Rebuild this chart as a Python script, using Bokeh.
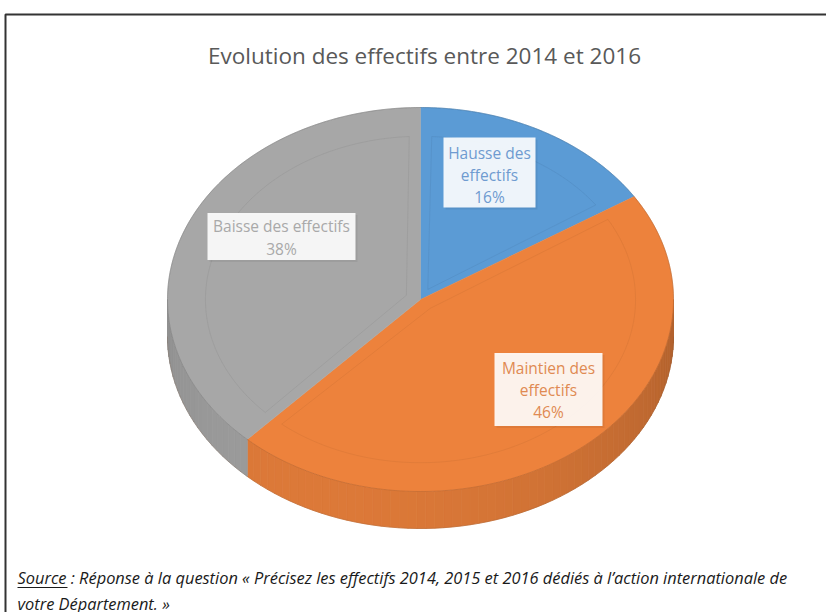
import numpy as np
from bokeh.plotting import figure
from bokeh.models import Range1d
from bokeh.core.properties import value
from bokeh.embed import file_html
from bokeh.resources import INLINE

# ---------------- data ----------------
chart_title = "Evolution des effectifs entre 2014 et 2016"
categories = ["Hausse des effectifs", "Maintien des effectifs", "Baisse des effectifs"]
shares = [16, 46, 38]
label_lines = [["Hausse des", "effectifs", "16%"],
               ["Maintien des", "effectifs", "46%"],
               ["Baisse des effectifs", "38%"]]
source_word = "Source"
source_line1 = "Source : Réponse à la question « Précisez les effectifs 2014, 2015 et 2016 dédiés à l’action internationale de"
source_line2 = "votre Département. »"

# ---------------- style / layout ----------------
top_colors = [(91, 155, 213), (237, 130, 60), (167, 167, 167)]
label_text_colors = ["#6f9bd0", "#e08a52", "#a9a9a9"]
label_boxes = [(489, 172, 92, 70), (548, 389, 108, 73), (281, 236, 148, 47)]   # cx, cy, w, h
label_line_y = [[152, 174, 196], [367, 389, 411], [225, 248]]

W, H = 826, 612
cx, cy, ra, rb, depth = 420, 299, 253, 192, 37

p = figure(width=W, height=H, x_range=Range1d(0, W), y_range=Range1d(H, 0),
           output_backend="svg", toolbar_location=None, min_border=0,
           x_axis_location=None, y_axis_location=None)
p.grid.visible = False
p.outline_line_color = None
p.background_fill_color = "white"
p.border_fill_color = "white"


def pt(theta, r=1.0, dy=0.0):
    t = np.radians(theta)
    return cx + ra * r * np.sin(t), cy - rb * r * np.cos(t) + dy


def hexc(rgb, f=1.0):
    r, g, b = [int(max(0, min(255, round(c * f)))) for c in rgb]
    return "#%02x%02x%02x" % (r, g, b)


total = float(sum(shares))
bounds = np.concatenate([[0], np.cumsum(shares)]) / total * 360.0

# ---- side wall (front half: 90..270 deg clockwise from top) ----
sx, sy, sc = [], [], []
for i in range(len(shares)):
    a0, a1 = max(bounds[i], 90.0), min(bounds[i + 1], 270.0)
    if a1 <= a0:
        continue
    steps = np.linspace(a0, a1, max(2, int((a1 - a0) / 2) + 1))
    for t0, t1 in zip(steps[:-1], steps[1:]):
        xa, ya = pt(t0)
        xb, yb = pt(t1)
        tm = 0.5 * (t0 + t1)
        f = 0.80 + 0.13 * np.cos(np.radians(tm - 205))
        sx.append([xa, xb, xb, xa])
        sy.append([ya, yb, yb + depth, ya + depth])
        sc.append(hexc(top_colors[i], f))
p.patches(sx, sy, fill_color=sc, line_color=sc, line_width=0.8)

tt = np.linspace(90, 270, 200)
bx, by = pt(tt, dy=depth)
p.line(bx, by, line_color="#7a5030", line_alpha=0.2, line_width=1)

# ---- top face wedges ----
wx, wy, wc = [], [], []
for i in range(len(shares)):
    tt = np.linspace(bounds[i], bounds[i + 1], 120)
    ex, ey = pt(tt)
    wx.append(np.concatenate([[cx], ex]))
    wy.append(np.concatenate([[cy], ey]))
    wc.append(hexc(top_colors[i]))
p.patches(wx, wy, fill_color=wc, line_color=wc, line_width=0.5)

# bevel inner outlines (subtle)
for i in range(len(shares)):
    tt = np.linspace(bounds[i] + 3, bounds[i + 1] - 3, 100)
    ex, ey = pt(tt, 0.85)
    mid = 0.5 * (bounds[i] + bounds[i + 1])
    ox, oy = pt(mid, 0.06)
    xs = np.concatenate([[ox], ex, [ox]])
    ys = np.concatenate([[oy], ey, [oy]])
    p.line(xs, ys, line_color=hexc(top_colors[i], 0.75), line_alpha=0.2, line_width=1)
    tt2 = np.linspace(bounds[i], bounds[i + 1], 120)
    ex2, ey2 = pt(tt2)
    p.line(ex2, ey2, line_color=hexc(top_colors[i], 0.7), line_alpha=0.45, line_width=1)

# ---- data labels ----
for i in range(len(shares)):
    bxc, byc, bw, bh = label_boxes[i]
    p.rect([bxc + 2], [byc + 2], [bw], [bh], fill_color="#000000", fill_alpha=0.06, line_color=None)
    p.rect([bxc], [byc], [bw], [bh], fill_color="white", fill_alpha=0.9, line_color=None)
    p.text([bxc] * len(label_lines[i]), label_line_y[i], text=label_lines[i],
           text_font=value("Open Sans"), text_font_size="15.5px",
           text_color=label_text_colors[i], text_align="center", text_baseline="middle")

# ---- title ----
p.text([424], [55], text=[chart_title], text_font=value("Open Sans"), text_font_size="22.5px",
       text_color="#595959", text_align="center", text_baseline="middle")

# ---- source note ----
p.text([17, 17], [577, 603], text=[source_line1, source_line2], text_font=value("Open Sans"),
       text_font_size="16.4px", text_font_style="italic", text_color="#1a1a1a",
       text_align="left", text_baseline="middle")
p.segment([17], [587], [67], [587], line_color="#1a1a1a", line_width=1)

# ---- frame ----
p.line([5, 5, 826], [612, 14, 14], line_color="#333333", line_width=2)

open("out.html", "w").write(file_html(p, INLINE))
